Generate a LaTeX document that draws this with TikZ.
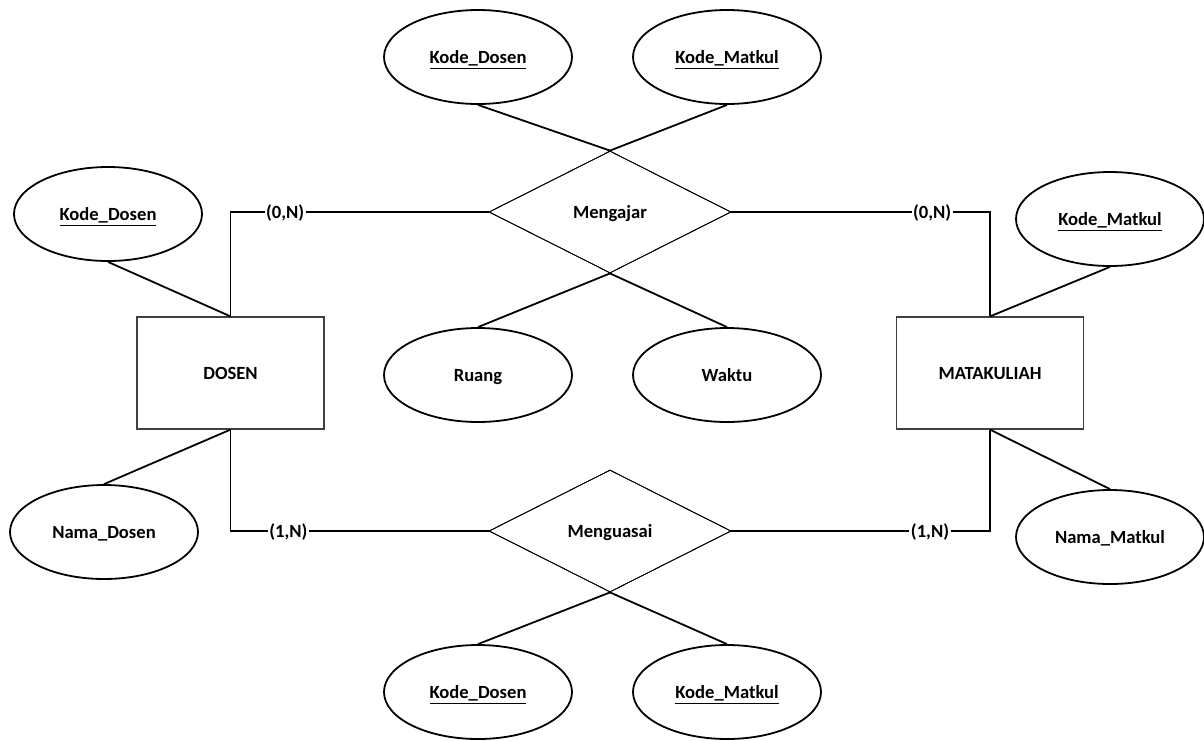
\documentclass[tikz,border=0pt]{standalone}
\usepackage{fontspec}
\setmainfont{Carlito}
\usetikzlibrary{shapes.geometric}

\tikzset{
  txt/.style={font=\bfseries, text height=0.75em, text depth=0em},
  attr/.style={ellipse, draw=black, line width=1.8pt, minimum width=188pt, minimum height=94pt, inner sep=0pt, txt},
  entity/.style={rectangle, draw=black!75, line width=1.2pt, minimum width=187pt, minimum height=112pt, inner sep=0pt, txt},
  rel/.style={diamond, draw=black, line width=0.8pt, minimum width=242pt, minimum height=122pt, aspect=2, inner sep=0pt, txt},
  link/.style={line width=1.8pt, black},
  card/.style={fill=white, inner sep=1.5pt, txt}
}

\begin{document}
\fontsize{18.6pt}{22pt}\selectfont
\begin{tikzpicture}[x=1pt, y=-1pt]
  \useasboundingbox (0,0) rectangle (1204,740);

  % entities
  \node[entity] (dosen) at (230.5,373) {DOSEN};
  \node[entity] (matkul) at (990,373) {MATAKULIAH};

  % relationships
  \node[rel] (mengajar) at (610,212) {Mengajar};
  \node[rel] (menguasai) at (610,531) {Menguasai};

  % attributes of DOSEN
  \node[attr] (dkode) at (108,214) {\underline{Kode\_Dosen}};
  \node[attr] (dnama) at (104,532) {Nama\_Dosen};

  % attributes of MATAKULIAH
  \node[attr] (mkode) at (1110,219) {\underline{Kode\_Matkul}};
  \node[attr] (mnama) at (1110,537) {Nama\_Matkul};

  % attributes of Mengajar
  \node[attr] (ajkd) at (478,57) {\underline{Kode\_Dosen}};
  \node[attr] (ajkm) at (727,57) {\underline{Kode\_Matkul}};
  \node[attr] (ruang) at (478,375) {Ruang};
  \node[attr] (waktu) at (727,375) {Waktu};

  % attributes of Menguasai
  \node[attr] (gukd) at (478,692) {\underline{Kode\_Dosen}};
  \node[attr] (gukm) at (727,692) {\underline{Kode\_Matkul}};

  % attribute links
  \draw[link] (dkode.south) -- (dosen.north);
  \draw[link] (dnama.north) -- (dosen.south);
  \draw[link] (mkode.south) -- (matkul.north);
  \draw[link] (mnama.north) -- (matkul.south);
  \draw[link] (ajkd.south) -- (mengajar.north);
  \draw[link] (ajkm.south) -- (mengajar.north);
  \draw[link] (ruang.north) -- (mengajar.south);
  \draw[link] (waktu.north) -- (mengajar.south);
  \draw[link] (gukd.north) -- (menguasai.south);
  \draw[link] (gukm.north) -- (menguasai.south);

  % relationship links with cardinalities
  \draw[link] (dosen.north) |- node[card, pos=0.606] {(0,N)} (mengajar.west);
  \draw[link] (matkul.north) |- node[card, pos=0.612] {(0,N)} (mengajar.east);
  \draw[link] (dosen.south) |- node[card, pos=0.612] {(1,N)} (menguasai.west);
  \draw[link] (matkul.south) |- node[card, pos=0.616] {(1,N)} (menguasai.east);

  % redraw relationship outlines over the links
  \node[rel, fill=none] at (mengajar) {};
  \node[rel, fill=none] at (menguasai) {};
\end{tikzpicture}
\end{document}
